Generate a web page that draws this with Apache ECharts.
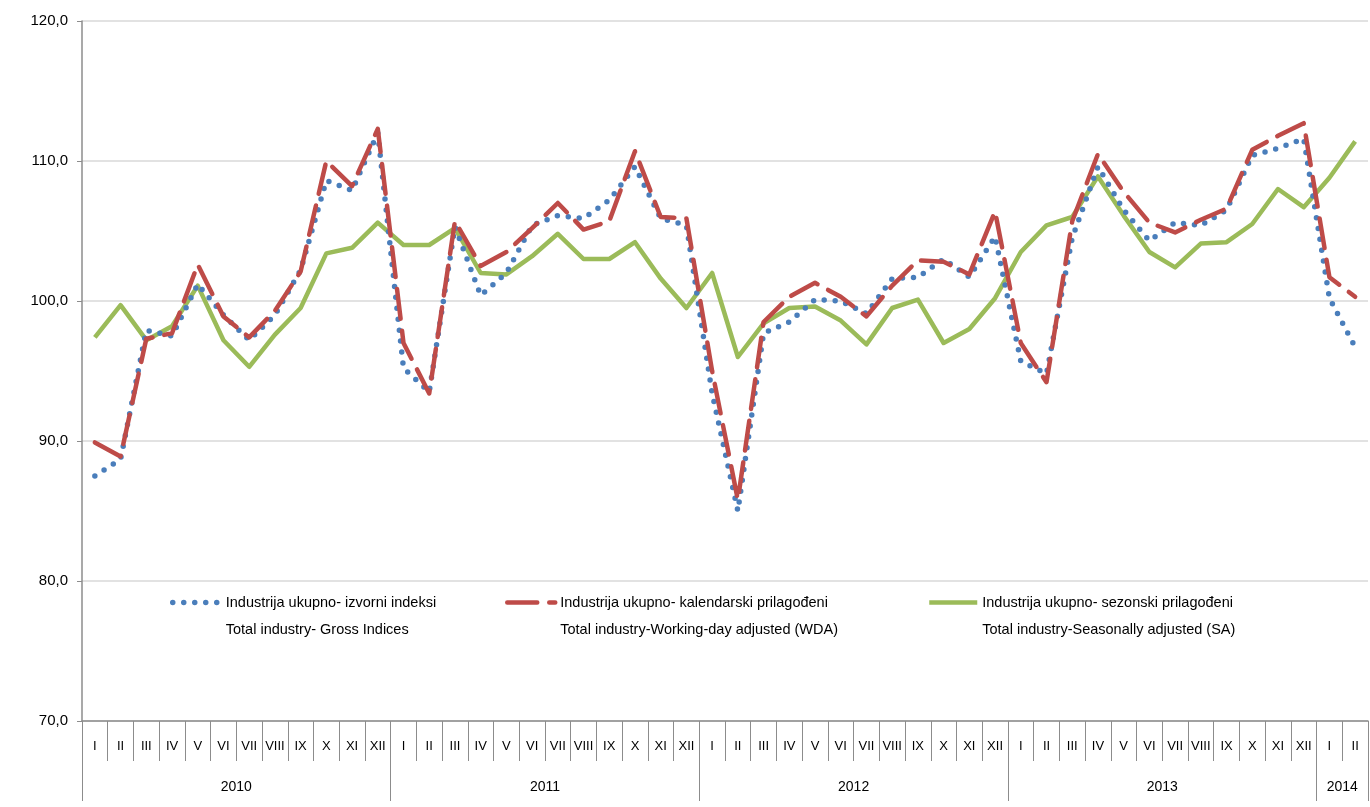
<!DOCTYPE html>
<html>
<head>
<meta charset="utf-8">
<script src="https://cdn.jsdelivr.net/npm/echarts@6/dist/echarts.min.js"></script>
<style>
html,body{margin:0;padding:0;background:#fff;}
#chart{width:1370px;height:807px;}
</style>
</head>
<body>
<div id="chart"></div>
<script>
// ---- data ----
var monthNames = ['I','II','III','IV','V','VI','VII','VIII','IX','X','XI','XII'];
var years = ['2010','2011','2012','2013','2014'];
var categories = [].concat(monthNames, monthNames, monthNames, monthNames, ['I','II']);

var grossIndices = [
  87.5, 88.7, 97.9, 97.5, 101.2, 99.0, 97.2, 99.0, 102.2, 108.6, 107.9, 112.0,
  95.2, 93.5, 105.3, 100.4, 102.0, 105.4, 106.1, 105.9, 107.2, 109.6, 105.9, 105.4,
  93.4, 85.0, 97.7, 98.5, 100.1, 100.0, 99.1, 101.6, 101.7, 103.0, 101.7, 104.6,
  95.7, 94.8, 104.5, 109.6, 106.5, 104.3, 105.6, 105.4, 106.5, 110.4, 110.9, 111.6,
  100.2, 96.7
];
var workingDayAdjusted = [
  89.9, 88.9, 97.3, 97.7, 102.6, 98.9, 97.4, 99.3, 102.1, 110.0, 108.2, 112.3,
  97.0, 93.4, 105.7, 102.5, 103.5, 105.2, 107.0, 105.1, 105.7, 110.7, 106.0, 105.9,
  95.0, 85.8, 98.5, 100.3, 101.3, 100.3, 98.9, 101.1, 102.9, 102.8, 101.9, 106.4,
  97.0, 94.2, 105.7, 110.5, 107.8, 105.6, 104.9, 105.8, 106.6, 110.8, 111.8, 112.7,
  101.7, 100.3
];
var seasonallyAdjusted = [
  97.4, 99.7, 97.2, 98.2, 101.1, 97.2, 95.3, 97.6, 99.5, 103.4, 103.8, 105.6,
  104.0, 104.0, 105.2, 102.0, 101.9, 103.2, 104.8, 103.0, 103.0, 104.2, 101.6, 99.5,
  102.0, 96.0, 98.4, 99.5, 99.6, 98.6, 96.9, 99.5, 100.1, 97.0, 98.0, 100.2,
  103.5, 105.4, 106.0, 108.9, 106.1, 103.5, 102.4, 104.1, 104.2, 105.5, 108.0, 106.7,
  108.8, 111.4
];
var seriesLine1 = [
  'Industrija ukupno- izvorni indeksi',
  'Industrija ukupno- kalendarski prilagođeni',
  'Industrija ukupno- sezonski prilagođeni'
];
var seriesLine2 = [
  'Total industry- Gross Indices',
  'Total industry-Working-day adjusted (WDA)',
  'Total industry-Seasonally adjusted (SA)'
];
var yearBoundaries = [0, 12, 24, 36, 48, 50];
var yearCenters = [6, 18, 30, 42, 49];

// ---- chart ----
var FONT = "'Liberation Sans Narrow', 'Arial Narrow', 'Liberation Sans', sans-serif";
var AXIS_GRAY = '#8c8c8c';
var colors = ['#4a7ebb', '#be4b48', '#9bbb59'];
var lineStyles = [
  {color: colors[0], width: 5.5, type: [0, 11], cap: 'round', join: 'round'},
  {color: colors[1], width: 4.5, type: [30, 12], cap: 'round', join: 'round'},
  {color: colors[2], width: 4.5, type: 'solid', cap: 'butt', join: 'round'}
];

function legendFor(i, left) {
  return {
    data: [seriesLine1[i]],
    left: left,
    top: 562,
    padding: 0,
    itemWidth: 48,
    itemHeight: 8,
    selectedMode: false,
    itemStyle: {opacity: 0},
    lineStyle: lineStyles[i],
    textStyle: {fontFamily: FONT, fontSize: 14.5, color: '#000', lineHeight: 27},
    formatter: function (name) {
      var k = seriesLine1.indexOf(name);
      return ' \n' + seriesLine1[k] + '\n' + seriesLine2[k];
    }
  };
}

var chart = echarts.init(document.getElementById('chart'), null, {renderer: 'canvas'});
chart.setOption({
  animation: false,
  backgroundColor: '#fff',
  grid: {left: 82, right: 2, top: 21, bottom: 86, containLabel: false},
  legend: [legendFor(0, 170), legendFor(1, 505), legendFor(2, 927)],
  xAxis: [
    {
      type: 'category',
      data: categories,
      boundaryGap: true,
      position: 'bottom',
      axisLine: {show: true, lineStyle: {color: AXIS_GRAY, width: 1.5}},
      axisTick: {show: true, interval: 0, length: 40, alignWithLabel: false, lineStyle: {color: AXIS_GRAY, width: 1}},
      axisLabel: {interval: 0, margin: 19, fontFamily: FONT, fontSize: 13, color: '#000'},
      splitLine: {show: false}
    },
    {
      type: 'value',
      min: 0,
      max: 50,
      position: 'bottom',
      axisLine: {show: false},
      splitLine: {show: false},
      axisTick: {show: true, customValues: yearBoundaries, length: 80, lineStyle: {color: AXIS_GRAY, width: 1}},
      axisLabel: {
        show: true,
        customValues: yearCenters,
        margin: 59,
        fontFamily: FONT, fontSize: 14, color: '#000',
        formatter: function (v) { return years[yearCenters.indexOf(v)]; }
      }
    }
  ],
  yAxis: {
    type: 'value',
    min: 70,
    max: 120,
    interval: 10,
    axisLine: {show: true, lineStyle: {color: AXIS_GRAY, width: 1.5}},
    axisTick: {show: true, length: 5, lineStyle: {color: AXIS_GRAY}},
    axisLabel: {
      margin: 14, fontFamily: FONT, fontSize: 15, color: '#000',
      formatter: function (v) { return v.toFixed(1).replace('.', ','); }
    },
    splitLine: {show: true, lineStyle: {color: '#d9d9d9', width: 1.5}}
  },
  series: [
    {
      name: seriesLine1[0], type: 'line', xAxisIndex: 0, data: grossIndices,
      symbol: 'none', color: colors[0], z: 3, lineStyle: lineStyles[0]
    },
    {
      name: seriesLine1[1], type: 'line', xAxisIndex: 0, data: workingDayAdjusted,
      symbol: 'none', color: colors[1], z: 4, lineStyle: lineStyles[1]
    },
    {
      name: seriesLine1[2], type: 'line', xAxisIndex: 0, data: seasonallyAdjusted,
      symbol: 'none', color: colors[2], z: 2, lineStyle: lineStyles[2]
    }
  ]
});
</script>
</body>
</html>
